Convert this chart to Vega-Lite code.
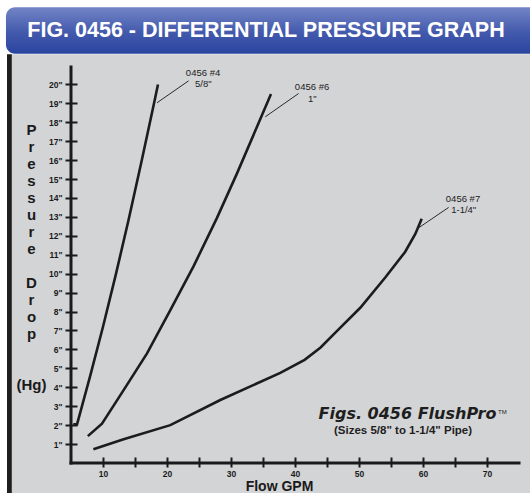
{
  "$schema": "https://vega.github.io/schema/vega-lite/v6.json",
  "width": 448,
  "height": 396,
  "autosize": {"type": "none"},
  "padding": {"left": 71, "top": 67, "right": 11, "bottom": 30},
  "background": "white",
  "config": {"view": {"stroke": null}, "axis": {"grid": false, "labelOverlap": false}},
  "datasets": {
    "curves": [
      {"series": "0456 #4", "x": 5.36, "y": 2.04},
      {"series": "0456 #4", "x": 5.94, "y": 2.04},
      {"series": "0456 #4", "x": 8.0, "y": 4.6},
      {"series": "0456 #4", "x": 10.0, "y": 7.2},
      {"series": "0456 #4", "x": 12.0, "y": 9.95},
      {"series": "0456 #4", "x": 14.0, "y": 12.85},
      {"series": "0456 #4", "x": 16.0, "y": 15.9},
      {"series": "0456 #4", "x": 18.0, "y": 19.05},
      {"series": "0456 #4", "x": 18.59, "y": 20.0},
      {"series": "0456 #6", "x": 7.63, "y": 1.42},
      {"series": "0456 #6", "x": 9.84, "y": 2.08},
      {"series": "0456 #6", "x": 13.22, "y": 3.85},
      {"series": "0456 #6", "x": 16.88, "y": 5.79},
      {"series": "0456 #6", "x": 20.52, "y": 8.07},
      {"series": "0456 #6", "x": 24.16, "y": 10.4},
      {"series": "0456 #6", "x": 27.81, "y": 12.95},
      {"series": "0456 #6", "x": 30.94, "y": 15.3},
      {"series": "0456 #6", "x": 34.06, "y": 17.76},
      {"series": "0456 #6", "x": 36.25, "y": 19.49},
      {"series": "0456 #7", "x": 8.5, "y": 0.73},
      {"series": "0456 #7", "x": 13.22, "y": 1.25},
      {"series": "0456 #7", "x": 20.52, "y": 2.0},
      {"series": "0456 #7", "x": 28.33, "y": 3.33},
      {"series": "0456 #7", "x": 37.7, "y": 4.76},
      {"series": "0456 #7", "x": 41.5, "y": 5.45},
      {"series": "0456 #7", "x": 44.0, "y": 6.1},
      {"series": "0456 #7", "x": 46.5, "y": 6.95},
      {"series": "0456 #7", "x": 50.2, "y": 8.2},
      {"series": "0456 #7", "x": 54.1, "y": 9.8},
      {"series": "0456 #7", "x": 57.2, "y": 11.15},
      {"series": "0456 #7", "x": 58.8, "y": 12.1},
      {"series": "0456 #7", "x": 59.8, "y": 12.9}
    ],
    "leaders": [
      {"series": "0456 #4", "x": 18.44, "y": 19.03},
      {"series": "0456 #4", "x": 23.38, "y": 20.19},
      {"series": "0456 #6", "x": 35.36, "y": 18.29},
      {"series": "0456 #6", "x": 40.56, "y": 19.52},
      {"series": "0456 #7", "x": 58.95, "y": 12.34},
      {"series": "0456 #7", "x": 64.0, "y": 13.5}
    ],
    "labels": [
      {"t": "0456 #4", "x": 25.63, "y": 20.44},
      {"t": "5/8\"", "x": 25.67, "y": 19.84},
      {"t": "0456 #6", "x": 42.66, "y": 19.7},
      {"t": "1\"", "x": 42.7, "y": 19.08},
      {"t": "0456 #7", "x": 66.25, "y": 13.8},
      {"t": "1-1/4\"", "x": 66.36, "y": 13.19}
    ]
  },
  "layer": [
    {
      "data": {"values": [{}]},
      "mark": {"type": "rect", "fill": "#d3d4d6"},
      "encoding": {
        "x": {"datum": -4.3},
        "x2": {"datum": 78.5},
        "y": {"datum": 21.6},
        "y2": {"datum": -2.5}
      }
    },
    {
      "data": {"values": [{}]},
      "mark": {"type": "rect", "fill": "#1e1e1e"},
      "encoding": {
        "x": {"datum": -5.0},
        "x2": {"datum": -4.25},
        "y": {"datum": 21.6},
        "y2": {"datum": -2.5}
      }
    },
    {
      "data": {"values": [{}]},
      "mark": {
        "type": "rect",
        "cornerRadius": 9,
        "fill": {
          "gradient": "linear",
          "x1": 0, "y1": 0, "x2": 0, "y2": 1,
          "stops": [
            {"offset": 0, "color": "#7385c6"},
            {"offset": 0.55, "color": "#4259ac"},
            {"offset": 1, "color": "#2a449f"}
          ]
        }
      },
      "encoding": {
        "x": {"datum": -5.16},
        "x2": {"datum": 79},
        "y": {"datum": 24.08},
        "y2": {"datum": 21.62}
      }
    },
    {
      "data": {"values": [{"t": "FIG. 0456 - DIFFERENTIAL PRESSURE GRAPH"}]},
      "mark": {
        "type": "text",
        "font": "Liberation Sans",
        "fontWeight": "bold",
        "fontSize": 21.5,
        "color": "white",
        "align": "center",
        "baseline": "alphabetic"
      },
      "encoding": {
        "x": {"datum": 35.47},
        "y": {"datum": 22.51},
        "text": {"field": "t"}
      }
    },
    {
      "data": {"name": "curves"},
      "mark": {"type": "line", "color": "#1c1c1c", "strokeWidth": 2.6},
      "encoding": {
        "x": {
          "field": "x",
          "type": "quantitative",
          "scale": {"domain": [5, 75], "nice": false, "zero": false},
          "axis": {
            "values": [10, 15, 20, 25, 30, 35, 40, 45, 50, 55, 60, 65, 70],
            "tickCount": 40,
            "labelExpr": "datum.value % 10 === 0 ? datum.label : ''",
            "labelOverlap": false,
            "offset": -6,
            "domain": false,
            "tickSize": 10,
            "tickWidth": 2,
            "tickColor": "#1a1a1a",
            "labelFont": "Liberation Sans",
            "labelFontWeight": "bold",
            "labelFontSize": 8.5,
            "labelColor": "#1a1a1a",
            "labelPadding": 2,
            "title": "Flow GPM",
            "titleFont": "Liberation Sans",
            "titleFontWeight": "bold",
            "titleFontSize": 14,
            "titleColor": "#1a1a1a",
            "titleX": 208,
            "titleY": 33.7,
            "titleAnchor": "middle",
            "titleAlign": "center",
            "titleBaseline": "alphabetic",
            "zindex": 1
          }
        },
        "y": {
          "field": "y",
          "type": "quantitative",
          "scale": {"domain": [0, 20.92], "nice": false, "zero": false},
          "axis": {
            "values": [1, 2, 3, 4, 5, 6, 7, 8, 9, 10, 11, 12, 13, 14, 15, 16, 17, 18, 19, 20],
            "tickCount": 40,
            "labelExpr": "datum.value + '\"'",
            "labelOverlap": false,
            "offset": -6,
            "domain": false,
            "tickSize": 12,
            "tickWidth": 2,
            "tickColor": "#1a1a1a",
            "labelFont": "Liberation Sans",
            "labelFontWeight": "bold",
            "labelFontSize": 8.5,
            "labelColor": "#1a1a1a",
            "labelPadding": 3,
            "title": ["P", "r", "e", "s", "s", "u", "r", "e", "\u200b", "D", "r", "o", "p", "\u200b", "\u200b", "(Hg)"],
            "titleAngle": 0,
            "titleAlign": "center",
            "titleBaseline": "top",
            "titleX": -46,
            "titleY": 55,
            "titleLineHeight": 17,
            "titleFont": "Liberation Sans",
            "titleFontWeight": "bold",
            "titleFontSize": 15,
            "titleColor": "#1a1a1a",
            "zindex": 1
          }
        },
        "detail": {"field": "series"}
      }
    },
    {
      "data": {"name": "leaders"},
      "mark": {"type": "line", "color": "#2a2a2a", "strokeWidth": 1},
      "encoding": {
        "x": {"field": "x", "type": "quantitative"},
        "y": {"field": "y", "type": "quantitative"},
        "detail": {"field": "series"}
      }
    },
    {
      "data": {"name": "labels"},
      "mark": {
        "type": "text",
        "font": "Liberation Sans",
        "fontSize": 9.5,
        "color": "#222222",
        "align": "center",
        "baseline": "alphabetic"
      },
      "encoding": {
        "x": {"field": "x", "type": "quantitative"},
        "y": {"field": "y", "type": "quantitative"},
        "text": {"field": "t"}
      }
    },
    {
      "data": {"values": [{"t": "Figs. 0456 FlushPro"}]},
      "mark": {
        "type": "text",
        "font": "DejaVu Sans",
        "fontWeight": "bold",
        "fontStyle": "italic",
        "fontSize": 16,
        "color": "#1e1e1e",
        "align": "center",
        "baseline": "alphabetic"
      },
      "encoding": {
        "x": {"datum": 57.58},
        "y": {"datum": 2.3},
        "text": {"field": "t"}
      }
    },
    {
      "data": {"values": [{"t": "TM"}]},
      "mark": {
        "type": "text",
        "font": "Liberation Sans",
        "fontSize": 6,
        "color": "#1e1e1e",
        "align": "left",
        "baseline": "alphabetic"
      },
      "encoding": {
        "x": {"datum": 71.72},
        "y": {"datum": 2.58},
        "text": {"field": "t"}
      }
    },
    {
      "data": {"values": [{"t": "(Sizes 5/8\" to 1-1/4\" Pipe)"}]},
      "mark": {
        "type": "text",
        "font": "Liberation Sans",
        "fontWeight": "bold",
        "fontSize": 11.5,
        "color": "#1e1e1e",
        "align": "center",
        "baseline": "alphabetic"
      },
      "encoding": {
        "x": {"datum": 56.88},
        "y": {"datum": 1.53},
        "text": {"field": "t"}
      }
    },
    {
      "data": {"values": [{}]},
      "mark": {"type": "rule", "color": "#1a1a1a", "strokeWidth": 3, "strokeCap": "square"},
      "encoding": {
        "x": {"datum": 5},
        "y": {"datum": 0},
        "y2": {"datum": 20.92}
      }
    },
    {
      "data": {"values": [{}]},
      "mark": {"type": "rule", "color": "#1a1a1a", "strokeWidth": 3, "strokeCap": "square"},
      "encoding": {
        "x": {"datum": 5},
        "x2": {"datum": 75},
        "y": {"datum": 0}
      }
    }
  ]
}
